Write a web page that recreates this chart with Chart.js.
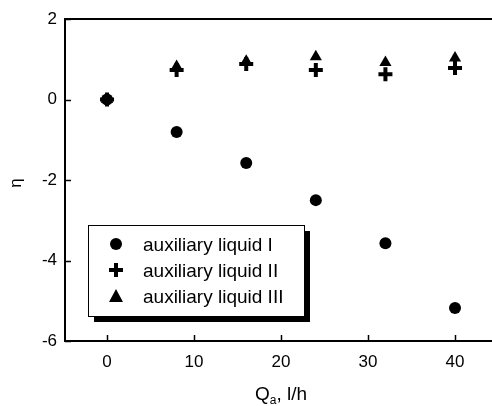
<!DOCTYPE html>
<html>
<head>
<meta charset="utf-8">
<script src="https://cdn.jsdelivr.net/npm/chart.js@4.4.1/dist/chart.umd.min.js"></script>
<style>
html,body{margin:0;padding:0;background:#fff;}
#wrap{width:492px;height:406px;}
</style>
</head>
<body>
<div id="wrap"><canvas id="c" width="492" height="406"></canvas></div>
<script>
const flowRates = [0, 8, 16, 24, 32, 40];
const liquidI   = [0, -0.81, -1.58, -2.50, -3.57, -5.18];
const liquidII  = [0, 0.73, 0.88, 0.73, 0.63, 0.78];
const liquidIII = [0, 0.82, 0.95, 1.06, 0.92, 1.03];
const xTicks = [0, 10, 20, 30, 40];
const seriesNames = ['auxiliary liquid I', 'auxiliary liquid II', 'auxiliary liquid III'];

const FONT = '"Liberation Sans", Arial, sans-serif';

function pts(ys){ return flowRates.map((x,i)=>({x:x, y:ys[i]})); }

function drawMarker(ctx, style, x, y){
  ctx.save();
  ctx.fillStyle = '#000'; ctx.strokeStyle = '#000';
  if(style==='circle'){
    ctx.beginPath(); ctx.arc(x,y,6,0,Math.PI*2); ctx.fill();
  } else if(style==='cross'){
    ctx.lineWidth = 4; ctx.lineCap='butt';
    ctx.beginPath(); ctx.moveTo(x-7,y); ctx.lineTo(x+7,y); ctx.moveTo(x,y-7); ctx.lineTo(x,y+7); ctx.stroke();
  } else {
    ctx.beginPath(); ctx.moveTo(x,y-7); ctx.lineTo(x+7,y+6); ctx.lineTo(x-7,y+6); ctx.closePath(); ctx.fill();
  }
  ctx.restore();
}

const decor = {
  id:'decor',
  afterDraw(chart){
    const ctx = chart.ctx, a = chart.chartArea;
    const xs = chart.scales.x, ys = chart.scales.y;
    ctx.save();
    ctx.strokeStyle = '#000';
    // top frame line
    ctx.lineWidth = 2;
    ctx.beginPath(); ctx.moveTo(a.left, a.top); ctx.lineTo(a.right, a.top); ctx.stroke();
    // inward ticks
    ctx.lineWidth = 1.5;
    xTicks.forEach(v=>{
      const px = Math.round(xs.getPixelForValue(v))+0.5;
      ctx.beginPath(); ctx.moveTo(px, a.bottom); ctx.lineTo(px, a.bottom-6); ctx.stroke();
    });
    ys.ticks.forEach(t=>{
      const py = Math.round(ys.getPixelForValue(t.value))+0.5;
      ctx.beginPath(); ctx.moveTo(a.left, py); ctx.lineTo(a.left+6, py); ctx.stroke();
    });
    // axis titles
    ctx.fillStyle = '#000';
    ctx.textBaseline = 'alphabetic';
    const q = 'Q', sub = 'a', rest = ', l/h';
    ctx.font = '19px ' + FONT;
    const wq = ctx.measureText(q).width;
    ctx.font = '12px ' + FONT;
    const ws = ctx.measureText(sub).width;
    let tx = 255;
    const ty = 400;
    ctx.font = '19px ' + FONT; ctx.textAlign='left';
    ctx.fillText(q, tx, ty); tx += wq;
    ctx.font = '12px ' + FONT; ctx.fillText(sub, tx, ty+4); tx += ws;
    ctx.font = '19px ' + FONT; ctx.fillText(rest, tx, ty);
    // y title
    ctx.save();
    ctx.translate(21, (a.top+a.bottom)/2 + 3);
    ctx.rotate(-Math.PI/2);
    ctx.textAlign = 'center';
    ctx.font = '17px ' + FONT;
    ctx.fillText('η', 0, 0);
    ctx.restore();
    // legend box with shadow
    const bx = 88, by = 225, bw = 216, bh = 91;
    ctx.fillStyle = '#000';
    ctx.fillRect(bx+6, by+6, bw, bh);
    ctx.fillStyle = '#fff';
    ctx.fillRect(bx, by, bw, bh);
    ctx.lineWidth = 1;
    ctx.strokeStyle = '#000';
    ctx.strokeRect(bx+0.5, by+0.5, bw, bh);
    const styles = ['circle','cross','triangle'];
    const rows = [244, 270, 296];
    ctx.font = '19px ' + FONT; ctx.fillStyle = '#000';
    ctx.textAlign = 'left'; ctx.textBaseline = 'middle';
    seriesNames.forEach((n,i)=>{
      drawMarker(ctx, styles[i], 116, rows[i]);
      ctx.fillText(n, 143, rows[i]+2);
    });
    ctx.restore();
  }
};

new Chart(document.getElementById('c'), {
  type: 'scatter',
  data: {
    datasets: [
      {label: seriesNames[0], data: pts(liquidI), pointStyle:'circle', pointRadius:6, backgroundColor:'#000', borderColor:'#000', borderWidth:0},
      {label: seriesNames[1], data: pts(liquidII), pointStyle:'cross', pointRadius:7, backgroundColor:'#000', borderColor:'#000', borderWidth:4},
      {label: seriesNames[2], data: pts(liquidIII), pointStyle:'triangle', pointRadius:7, backgroundColor:'#000', borderColor:'#000', borderWidth:0}
    ]
  },
  options: {
    responsive: false,
    animation: false,
    devicePixelRatio: 1,
    layout: {autoPadding: false, padding: {top: 19, right: 0, left: 0, bottom: 0}},
    plugins: {legend: {display: false}, tooltip: {enabled: false}},
    scales: {
      x: {
        type: 'linear', min: -4.83, max: 44.25,
        afterBuildTicks: s => { s.ticks = xTicks.map(v=>({value:v})); },
        afterFit: s => { s.height = 65; s.paddingLeft = 0; s.paddingRight = 0; },
        grid: {display: false, drawTicks: false},
        border: {display: true, color: '#000', width: 2},
        ticks: {color:'#000', font:{family: FONT, size: 17}, padding: 11, maxRotation:0}
      },
      y: {
        type: 'linear', min: -6, max: 2,
        afterFit: s => { s.width = 65; s.paddingTop = 0; s.paddingBottom = 0; },
        grid: {display: false, drawTicks: false},
        border: {display: true, color: '#000', width: 2},
        ticks: {stepSize: 2, color:'#000', font:{family: FONT, size: 17}, padding: 8}
      }
    }
  },
  plugins: [decor]
});
</script>
</body>
</html>
